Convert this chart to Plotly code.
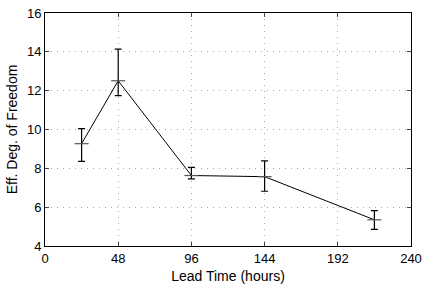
import plotly.graph_objects as go

lead_time = [24, 48, 96, 144, 216]
eff_dof = [9.27, 12.51, 7.63, 7.57, 5.35]
err_plus = [0.78, 1.63, 0.42, 0.81, 0.47]
err_minus = [0.91, 0.77, 0.17, 0.75, 0.49]

x_ticks = [0, 48, 96, 144, 192, 240]
y_ticks = [4, 6, 8, 10, 12, 14, 16]

fig = go.Figure()
fig.add_trace(go.Scatter(
    x=lead_time, y=eff_dof, mode="lines+markers",
    line=dict(color="black", width=1),
    marker=dict(symbol="line-ew", size=10, line=dict(color="#555555", width=1.2)),
    error_y=dict(type="data", symmetric=False, array=err_plus, arrayminus=err_minus,
                 color="black", thickness=1.2, width=3.5),
    showlegend=False,
))

font = dict(family="Liberation Sans, Arial, sans-serif", size=13, color="black")
title_font = dict(family="Liberation Sans, Arial, sans-serif", size=14, color="black")
fig.update_layout(
    width=428, height=284,
    margin=dict(l=45, r=17, t=13, b=38),
    paper_bgcolor="white", plot_bgcolor="white",
    font=font,
    xaxis=dict(range=[0, 240], tickvals=x_ticks, ticks="inside", ticklen=4,
               showline=True, linecolor="black", linewidth=1, mirror="ticks",
               showgrid=True, gridcolor="#aaaaaa", griddash="1px,5px", gridwidth=1,
               zeroline=False, automargin=False,
               title=dict(text="Lead Time (hours)", standoff=8, font=title_font),
               tickfont=font),
    yaxis=dict(range=[4, 16], tickvals=y_ticks, ticks="inside", ticklen=4,
               showline=True, linecolor="black", linewidth=1, mirror="ticks",
               showgrid=True, gridcolor="#aaaaaa", griddash="1px,5px", gridwidth=1,
               zeroline=False, automargin=False,
               title=dict(text="Eff. Deg. of Freedom", standoff=6, font=title_font),
               tickfont=font),
)
fig.write_html("out.html", config={"displayModeBar": False},
               post_script="document.body.style.margin='0';document.body.style.overflow='hidden';")
